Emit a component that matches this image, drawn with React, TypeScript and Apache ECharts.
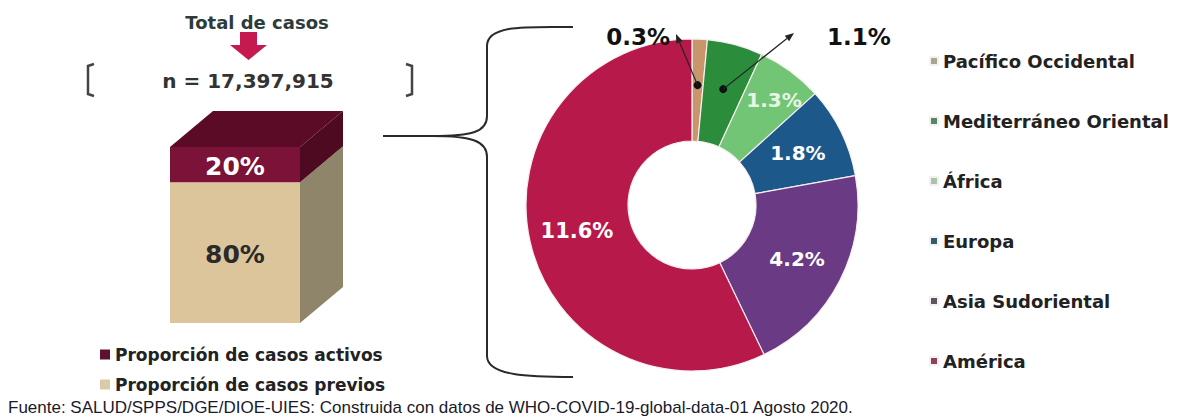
import React, { useEffect, useRef } from "react";
import * as echarts from "echarts";

// ---------- data ----------
const totalCases = 17397915;
const boxCategories = ["Total"];
const boxNames = ["Proporción de casos activos", "Proporción de casos previos"];
const boxValues = [20, 80]; // activos, previos (stacked: previos at bottom)
const regionNames = [
  "Pacífico Occidental",
  "Mediterráneo Oriental",
  "África",
  "Europa",
  "Asia Sudoriental",
  "América",
];
const regionValues = [0.3, 1.1, 1.3, 1.8, 4.2, 11.6];
const headerTitle = "Total de casos";
const sourceNote =
  "Fuente: SALUD/SPPS/DGE/DIOE-UIES: Construida con datos de WHO-COVID-19-global-data-01 Agosto 2020.";

// ---------- styles ----------
const pieColors = ["#c9966b", "#2b8c3c", "#72c574", "#1c5889", "#6a3a84", "#b8194b"];
const legendColors = ["#aaa58c", "#4f8a63", "#a9c4a9", "#2f5d70", "#5b5660", "#8f4357"];
const boxFront = ["#7b1238", "#dcc59b"];
const boxSide = ["#4e0a20", "#8e856b"];
const boxTop = "#5c0b26";
const boxLegend = ["#5e1030", "#d9cba8"];
const FONT = "DejaVu Sans";

const CX = 692;
const CY = 205;
const DX = 43;
const DY = -36;

const BRACE_D =
  "M 573 27 C 530 27 487 24 487 46 L 487 116 C 487 132 472 136 432 136 C 472 136 487 141 487 157 L 487 356 C 487 376 530 377 573 377";
echarts.graphic.registerShape("brace", echarts.graphic.extendPath(BRACE_D, {}));

function polar(deg: number, r: number) {
  const a = (deg * Math.PI) / 180;
  return [CX + r * Math.sin(a), CY - r * Math.cos(a)];
}

function arrow(from: number[], to: number[]) {
  const dx = to[0] - from[0];
  const dy = to[1] - from[1];
  const len = Math.sqrt(dx * dx + dy * dy);
  const ux = dx / len;
  const uy = dy / len;
  const px = -uy;
  const py = ux;
  const bx = to[0] - ux * 9;
  const by = to[1] - uy * 9;
  return [
    { type: "circle", z: 100, shape: { cx: from[0], cy: from[1], r: 4 }, style: { fill: "#111" } },
    {
      type: "line",
      z: 100,
      shape: { x1: from[0], y1: from[1], x2: bx, y2: by },
      style: { stroke: "#222", lineWidth: 1.2 },
    },
    {
      type: "polygon",
      z: 100,
      shape: {
        points: [
          [to[0], to[1]],
          [bx + px * 3.5, by + py * 3.5],
          [bx - px * 3.5, by - py * 3.5],
        ],
      },
      style: { fill: "#222" },
    },
  ];
}

function makeRender(idx: number, isTop: boolean, labelColor: string) {
  return (params: any, api: any) => {
    const start = api.value(1);
    const end = api.value(2);
    const pB = api.coord([api.value(0), start]);
    const pT = api.coord([api.value(0), end]);
    const w = api.size([1, 0])[0];
    const x0 = pB[0] - w / 2;
    const x1 = pB[0] + w / 2;
    const yB = pB[1];
    const yT = pT[1];
    const children: any[] = [
      { type: "rect", shape: { x: x0, y: yT, width: w, height: yB - yT }, style: { fill: boxFront[idx] } },
      {
        type: "polygon",
        shape: { points: [[x1, yT], [x1 + DX, yT + DY], [x1 + DX, yB + DY], [x1, yB]] },
        style: { fill: boxSide[idx] },
      },
    ];
    if (isTop) {
      children.push({
        type: "polygon",
        shape: { points: [[x0, yT], [x0 + DX, yT + DY], [x1 + DX, yT + DY], [x1, yT]] },
        style: { fill: boxTop },
      });
    }
    children.push({
      type: "text",
      x: (x0 + x1) / 2,
      y: (yT + yB) / 2 + 2,
      style: {
        text: `${Math.round(end - start)}%`,
        fill: labelColor,
        font: `bold 25px "${FONT}"`,
        align: "center",
        verticalAlign: "middle",
      },
    });
    return { type: "group", children };
  };
}

export default function App() {
  const ref = useRef<HTMLDivElement>(null);

  useEffect(() => {
    if (!ref.current) return;
    const chart = echarts.init(ref.current, undefined, { renderer: "svg" });

    const total = regionValues.reduce((a, b) => a + b, 0);
    let acc = 0;
    const mids = regionValues.map((v) => {
      const m = acc + v / 2;
      acc += v;
      return (m / total) * 360;
    });

    const activos = boxValues[0];
    const previos = boxValues[1];

    const graphic: any[] = [
      {
        type: "text",
        x: 257,
        y: 22,
        style: {
          text: headerTitle,
          font: `bold 18px "${FONT}"`,
          fill: "#2e3b3b",
          align: "center",
          verticalAlign: "middle",
        },
      },
      {
        type: "polygon",
        shape: {
          points: [
            [240, 32],
            [257, 32],
            [257, 45],
            [267, 45],
            [248.5, 60],
            [230, 45],
            [240, 45],
          ],
        },
        style: { fill: "#c41a50" },
      },
      {
        type: "text",
        x: 248,
        y: 81,
        style: {
          text: `n = ${totalCases.toLocaleString("en-US")}`,
          font: `600 20px "${FONT}"`,
          fill: "#333",
          align: "center",
          verticalAlign: "middle",
        },
      },
      {
        type: "polyline",
        shape: { points: [[94, 64], [88, 66], [88, 94], [94, 96]] },
        style: { stroke: "#444", lineWidth: 2.5, fill: "none" },
      },
      {
        type: "polyline",
        shape: { points: [[406, 64], [412, 66], [412, 94], [406, 96]] },
        style: { stroke: "#444", lineWidth: 2.5, fill: "none" },
      },
      {
        type: "brace",
        x: 0,
        y: 0,
        style: { fill: "none", stroke: "#2a2a2a", lineWidth: 2 },
      },
      {
        type: "line",
        shape: { x1: 383, y1: 136, x2: 434, y2: 136 },
        style: { stroke: "#2a2a2a", lineWidth: 2 },
      },
      ...arrow(polar(mids[0], 120), [676, 34]),
      ...arrow(polar(mids[1], 120), [794, 33]),
      {
        type: "text",
        x: 670,
        y: 37,
        z: 100,
        style: {
          text: `${regionValues[0]}%`,
          font: `bold 23px "${FONT}"`,
          fill: "#111",
          align: "right",
          verticalAlign: "middle",
        },
      },
      {
        type: "text",
        x: 827,
        y: 37,
        z: 100,
        style: {
          text: `${regionValues[1]}%`,
          font: `bold 23px "${FONT}"`,
          fill: "#111",
          align: "left",
          verticalAlign: "middle",
        },
      },
      {
        type: "text",
        x: 8,
        y: 407,
        style: {
          text: sourceNote,
          font: `17px "Liberation Sans"`,
          fill: "#1a1a2a",
          align: "left",
          verticalAlign: "middle",
        },
      },
    ];

    chart.setOption({
      animation: false,
      backgroundColor: "#ffffff",
      grid: { left: 170, width: 130, top: 147, height: 176 },
      xAxis: { type: "category", data: boxCategories, show: false },
      yAxis: { type: "value", min: 0, max: 100, show: false },
      legend: [
        {
          orient: "vertical",
          left: 95,
          top: 341,
          itemGap: 13,
          icon: "rect",
          itemWidth: 10,
          itemHeight: 10,
          textStyle: { fontFamily: FONT, fontWeight: "bold", fontSize: 17, color: "#222" },
          data: boxNames.map((n, i) => ({ name: n, itemStyle: { color: boxLegend[i] } })),
          selectedMode: false,
        },
        {
          orient: "vertical",
          left: 924,
          top: 47,
          itemGap: 42,
          icon: "rect",
          itemWidth: 8,
          itemHeight: 8,
          textStyle: { fontFamily: FONT, fontWeight: "bold", fontSize: 18, color: "#222" },
          data: regionNames.map((n, i) => ({ name: n, itemStyle: { color: legendColors[i] } })),
          selectedMode: false,
        },
      ],
      series: [
        {
          type: "custom",
          name: boxNames[1],
          itemStyle: { color: boxLegend[1] },
          renderItem: makeRender(1, false, "#2a2a2a"),
          data: [[0, 0, previos]],
        },
        {
          type: "custom",
          name: boxNames[0],
          itemStyle: { color: boxLegend[0] },
          renderItem: makeRender(0, true, "#ffffff"),
          data: [[0, previos, previos + activos]],
        },
        {
          type: "pie",
          center: [CX, CY],
          radius: [64, 166],
          startAngle: 90,
          clockwise: true,
          avoidLabelOverlap: false,
          itemStyle: { borderColor: "#f6eef0", borderWidth: 1.2 },
          label: {
            show: true,
            position: "inside",
            formatter: (p: any) => `${p.value}%`,
            color: "#ffffff",
            fontFamily: FONT,
            fontWeight: "bold",
            fontSize: 20,
          },
          labelLine: { show: false },
          emphasis: { disabled: true },
          data: regionNames.map((n, i) => ({
            name: n,
            value: regionValues[i],
            itemStyle: { color: pieColors[i] },
            label:
              i < 2
                ? { show: false }
                : i === 2
                ? { show: true, offset: [12, -10], color: "#e8f6e8" }
                : i === 5
                ? { show: true, fontSize: 21 }
                : { show: true },
          })),
        },
      ],
      graphic,
    });

    return () => chart.dispose();
  }, []);

  return (
    <div
      ref={ref}
      style={{ position: "fixed", left: 0, top: 0, width: 1184, height: 418 }}
    />
  );
}
